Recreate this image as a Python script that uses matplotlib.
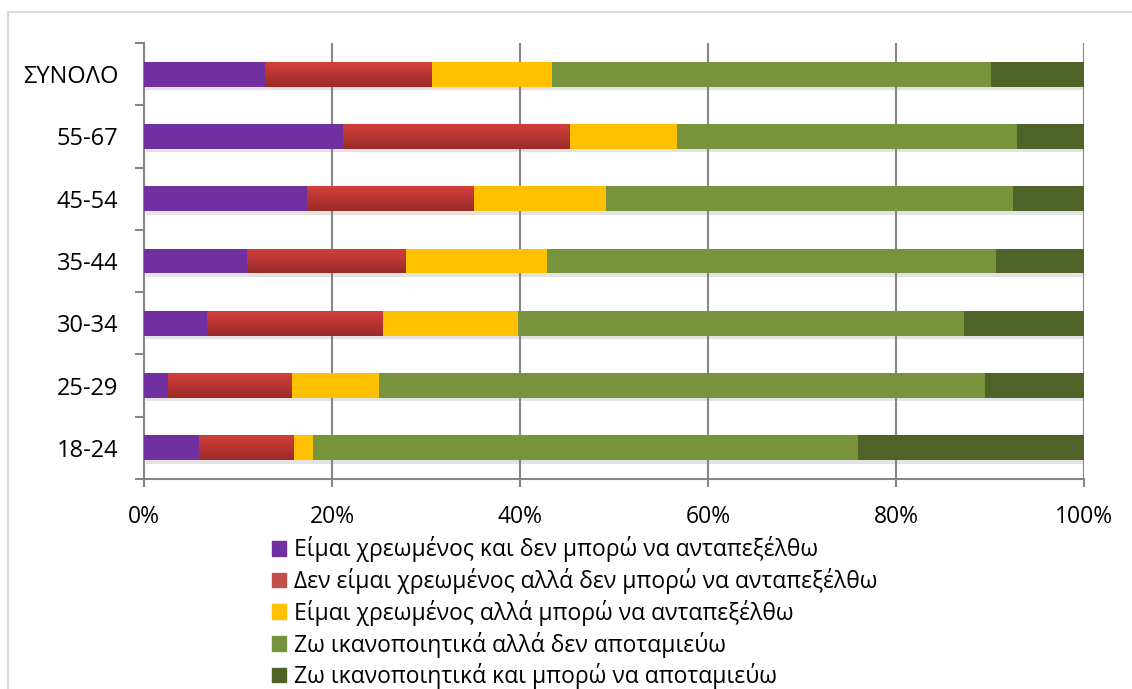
import numpy as np
import matplotlib
matplotlib.use("Agg")
import matplotlib.pyplot as plt
import matplotlib.patheffects as pe
from matplotlib.colors import LinearSegmentedColormap
from matplotlib.patches import Rectangle
from matplotlib.ticker import FixedLocator, PercentFormatter

plt.rcParams["font.family"] = ["Open Sans", "DejaVu Sans"]

groups = ["18-24", "25-29", "30-34", "35-44", "45-54", "55-67", "ΣΥΝΟΛΟ"]
series_names = [
    "Είμαι χρεωμένος και δεν μπορώ να ανταπεξέλθω",
    "Δεν είμαι χρεωμένος αλλά δεν μπορώ να ανταπεξέλθω",
    "Είμαι χρεωμένος αλλά μπορώ να ανταπεξέλθω",
    "Ζω ικανοποιητικά αλλά δεν αποταμιεύω",
    "Ζω ικανοποιητικά και μπορώ να αποταμιεύω",
]
# percentages per group, bottom row first
debt_cant = [5.9, 2.6, 6.7, 11.0, 17.3, 21.2, 12.9]
nodebt_cant = [10.1, 13.1, 18.7, 16.9, 17.7, 24.1, 17.7]
debt_can = [2.0, 9.3, 14.4, 15.0, 14.1, 11.4, 12.8]
ok_nosave = [58.0, 64.5, 47.4, 47.7, 43.3, 36.2, 46.7]
ok_save = [24.0, 10.5, 12.8, 9.4, 7.6, 7.1, 9.9]

colors = ["#7030A0", "#C0504D", "#FFC000", "#77933C", "#4F6228"]
red_grad = LinearSegmentedColormap.from_list("redgrad", ["#9B2B28", "#D23F3B"])

fig = plt.figure(figsize=(11.32, 6.89), dpi=100)
ax = fig.add_axes([0.1272, 0.3048, 0.8304, 0.6328])

# light frame around the chart area
fig.patches.append(Rectangle((8 / 1132, -0.05), 1.1, 1 - 12 / 689 + 0.05,
                             transform=fig.transFigure, fill=False,
                             edgecolor="#D9D9D9", linewidth=1.5, zorder=0))

y = np.arange(len(groups))
left = np.zeros(len(groups))
all_series = [debt_cant, nodebt_cant, debt_can, ok_nosave, ok_save]
shadow = [pe.SimplePatchShadow(offset=(1.5, -2.5), shadow_rgbFace="#808080", alpha=0.22), pe.Normal()]
for i, vals in enumerate(all_series):
    vals = np.array(vals)
    bars = ax.barh(y, vals, left=left, height=0.4, color=colors[i],
                   label=series_names[i], zorder=3, path_effects=shadow)
    if i == 1:
        # red bars have a vertical gradient
        for b in bars:
            x0, y0 = b.get_x(), b.get_y()
            w, h = b.get_width(), b.get_height()
            im = ax.imshow(np.linspace(0, 1, 50).reshape(-1, 1), cmap=red_grad,
                           extent=[x0, x0 + w, y0, y0 + h], aspect="auto",
                           origin="lower", zorder=3.5)
            im.set_clip_path(b)
    left += vals

ax.set_xlim(0, 100)
ax.set_ylim(-0.5, len(groups) - 0.5)
ax.xaxis.set_major_locator(FixedLocator([0, 20, 40, 60, 80, 100]))
ax.xaxis.set_major_formatter(PercentFormatter(decimals=0))
ax.grid(axis="x", color="#868686", linewidth=1.5, zorder=0)
ax.set_axisbelow(True)

ax.set_yticks(y)
ax.set_yticklabels(groups)
ax.set_yticks(np.arange(-0.5, len(groups)), minor=True)
ax.tick_params(axis="y", which="major", length=0, pad=18.5, labelsize=17)
ax.tick_params(axis="y", which="minor", length=6.5, width=1.5, color="#868686")
ax.tick_params(axis="x", length=5.8, width=1.5, color="#868686", pad=13, labelsize=16.5)

for s in ["top", "right"]:
    ax.spines[s].set_visible(False)
for s in ["left", "bottom"]:
    ax.spines[s].set_color("#868686")
    ax.spines[s].set_linewidth(1.5)

leg_handles = [Rectangle((0, 0), 1, 1, color=c) for c in colors]
fig.legend(leg_handles, series_names, loc="upper left",
           bbox_to_anchor=(254 / 1132, 1 - 518 / 689), frameon=False,
           fontsize=16.5, handlelength=0.6, handleheight=0.6,
           handletextpad=0.35, labelspacing=0.25, borderpad=0.3)

fig.savefig("out.png", dpi=100)
